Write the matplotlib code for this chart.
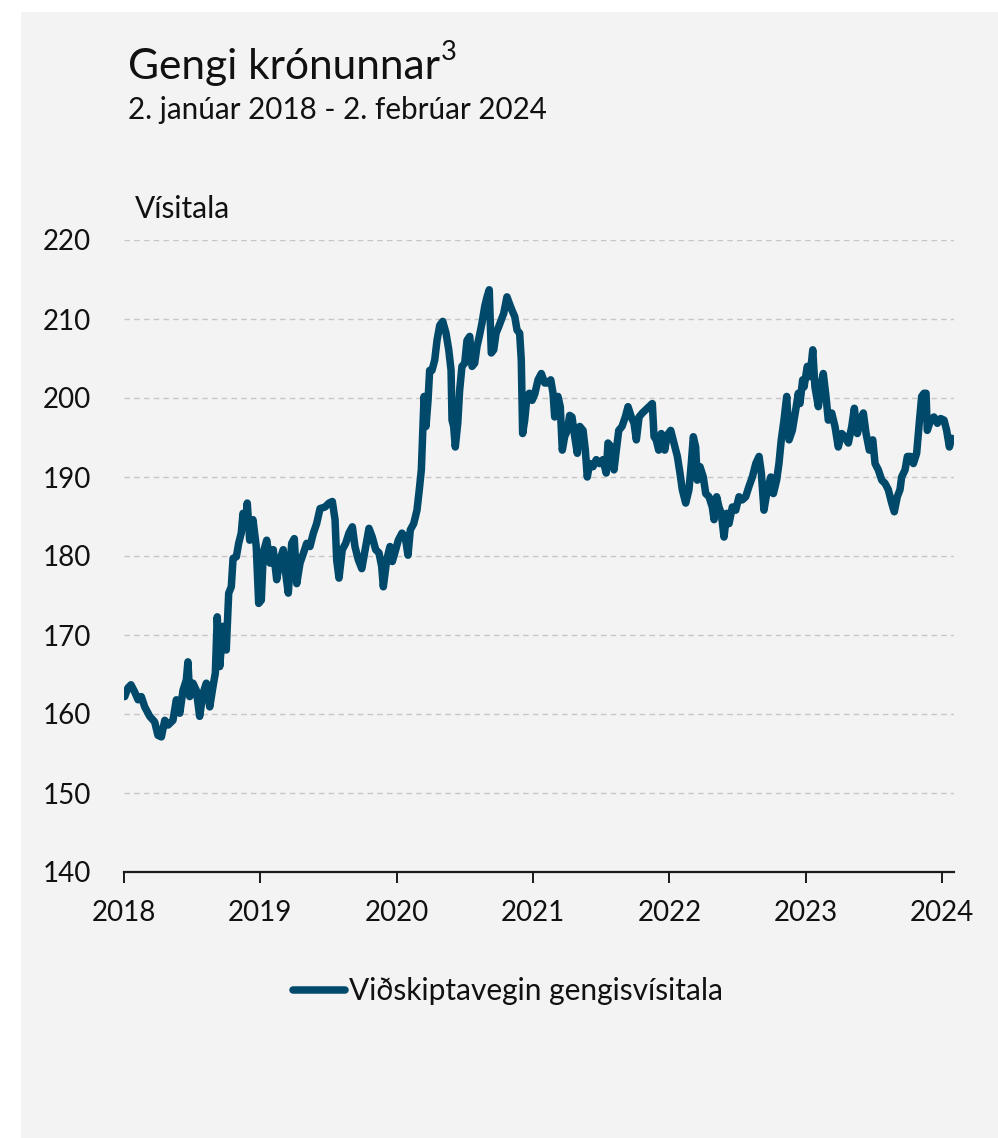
import matplotlib
matplotlib.use("Agg")
import matplotlib.pyplot as plt
from matplotlib.patches import Rectangle
import numpy as np

plt.rcParams['font.family'] = ['Lato', 'DejaVu Sans']

# Viðskiptavegin gengisvísitala (fractional year, index)
years = [
    2018.005, 2018.029, 2018.051, 2018.078, 2018.103, 2018.127, 2018.152, 2018.189, 2018.225, 2018.249,
    2018.274, 2018.299, 2018.323, 2018.359, 2018.384, 2018.409, 2018.433, 2018.457, 2018.469, 2018.482,
    2018.506, 2018.530, 2018.555, 2018.579, 2018.604, 2018.629, 2018.653, 2018.670, 2018.684, 2018.702,
    2018.726, 2018.750, 2018.768, 2018.787, 2018.800, 2018.824, 2018.841, 2018.860, 2018.873, 2018.890,
    2018.904, 2018.922, 2018.946, 2018.970, 2018.988,
    2019.007, 2019.022, 2019.047, 2019.071, 2019.095, 2019.120, 2019.144, 2019.168, 2019.186, 2019.205,
    2019.230, 2019.249, 2019.267, 2019.291, 2019.315, 2019.340, 2019.364, 2019.389, 2019.413, 2019.438,
    2019.474, 2019.504, 2019.528, 2019.548, 2019.560, 2019.577, 2019.601, 2019.626, 2019.650, 2019.675,
    2019.694, 2019.719, 2019.744, 2019.773, 2019.797, 2019.821, 2019.846, 2019.870, 2019.890, 2019.902,
    2019.927, 2019.951, 2019.968, 2019.988,
    2020.012, 2020.039, 2020.063, 2020.083, 2020.100, 2020.125, 2020.149, 2020.166, 2020.181, 2020.191,
    2020.201, 2020.215, 2020.230, 2020.242, 2020.259, 2020.279, 2020.296, 2020.316, 2020.338, 2020.362,
    2020.382, 2020.399, 2020.406, 2020.418, 2020.430, 2020.448, 2020.462, 2020.479, 2020.499, 2020.516,
    2020.536, 2020.553, 2020.572, 2020.589, 2020.606, 2020.626, 2020.646, 2020.663, 2020.679, 2020.694,
    2020.712, 2020.729, 2020.748, 2020.768, 2020.785, 2020.809, 2020.826, 2020.846, 2020.866, 2020.883,
    2020.902, 2020.914, 2020.924, 2020.939, 2020.956, 2020.973, 2020.993,
    2021.013, 2021.037, 2021.061, 2021.086, 2021.110, 2021.130, 2021.147, 2021.159, 2021.183, 2021.200,
    2021.215, 2021.232, 2021.252, 2021.269, 2021.286, 2021.306, 2021.325, 2021.343, 2021.367, 2021.384,
    2021.398, 2021.416, 2021.440, 2021.464, 2021.489, 2021.513, 2021.537, 2021.550, 2021.574, 2021.594,
    2021.611, 2021.629, 2021.653, 2021.677, 2021.697, 2021.721, 2021.741, 2021.758, 2021.778, 2021.802,
    2021.827, 2021.851, 2021.875, 2021.888, 2021.904, 2021.922, 2021.941, 2021.966, 2021.985,
    2022.010, 2022.034, 2022.059, 2022.078, 2022.095, 2022.120, 2022.144, 2022.161, 2022.176, 2022.193,
    2022.205, 2022.225, 2022.249, 2022.267, 2022.291, 2022.315, 2022.328, 2022.347, 2022.364, 2022.381,
    2022.401, 2022.421, 2022.438, 2022.462, 2022.487, 2022.511, 2022.535, 2022.560, 2022.584, 2022.609,
    2022.634, 2022.658, 2022.675, 2022.694, 2022.719, 2022.744, 2022.763, 2022.787, 2022.804, 2022.821,
    2022.841, 2022.861, 2022.878, 2022.902, 2022.927, 2022.946, 2022.958, 2022.978, 2022.988,
    2023.012, 2023.032, 2023.052, 2023.068, 2023.093, 2023.110, 2023.129, 2023.149, 2023.166, 2023.191,
    2023.215, 2023.239, 2023.264, 2023.288, 2023.313, 2023.338, 2023.357, 2023.379, 2023.404, 2023.423,
    2023.443, 2023.467, 2023.492, 2023.509, 2023.533, 2023.558, 2023.582, 2023.606, 2023.631, 2023.650,
    2023.672, 2023.692, 2023.704, 2023.729, 2023.746, 2023.770, 2023.790, 2023.814, 2023.833, 2023.851,
    2023.868, 2023.883, 2023.892, 2023.917, 2023.941, 2023.966, 2023.990,
    2024.015, 2024.034, 2024.054, 2024.071,
]
index_values = [
    162.2, 163.3, 163.7, 162.8, 161.8, 162.2, 160.9, 159.7, 159.0, 157.3,
    157.1, 159.2, 158.6, 159.2, 161.8, 160.1, 163.0, 164.3, 166.6, 162.2,
    163.9, 163.0, 159.7, 162.6, 163.9, 160.9, 163.5, 165.2, 172.3, 166.0,
    171.1, 168.1, 175.3, 176.1, 179.7, 179.9, 181.6, 182.9, 185.4, 183.7,
    186.7, 182.0, 184.6, 181.2, 174.0,
    174.4, 180.5, 182.0, 179.1, 180.8, 177.0, 179.5, 180.8, 177.8, 175.3,
    181.6, 182.2, 176.5, 179.1, 180.3, 181.6, 181.2, 182.9, 184.1, 186.0,
    186.2, 186.7, 186.9, 184.6, 179.5, 177.2, 180.8, 181.6, 182.9, 183.7,
    181.2, 179.5, 178.4, 181.2, 183.5, 182.4, 180.8, 180.4, 178.7, 176.1,
    179.5, 181.2, 179.3, 180.5,
    182.0, 182.9, 182.4, 180.1, 183.3, 184.1, 185.8, 188.4, 190.9, 195.5,
    200.2, 196.4, 199.7, 203.5, 203.5, 204.8, 207.3, 209.2, 209.7, 208.2,
    206.1, 203.5, 197.2, 196.4, 193.8, 196.8, 201.0, 204.0, 204.4, 207.3,
    207.8, 204.0, 204.4, 206.5, 207.8, 209.5, 211.6, 212.8, 213.7, 205.7,
    206.1, 208.2, 209.0, 209.9, 210.7, 212.8, 212.0, 211.1, 210.3, 208.6,
    208.2, 204.8, 195.5, 197.2, 200.2, 200.6, 199.7,
    200.5, 202.3, 203.1, 201.9, 201.9, 202.3, 200.6, 197.6, 200.2, 198.9,
    193.4, 195.1, 195.9, 197.8, 197.6, 195.1, 193.0, 196.4, 195.9, 193.4,
    190.0, 191.7, 191.3, 192.2, 191.7, 192.2, 190.5, 194.3, 193.8, 190.9,
    193.4, 195.9, 196.4, 197.6, 198.9, 197.6, 196.8, 194.7, 197.6, 198.1,
    198.5, 198.9, 199.3, 195.1, 194.7, 193.4, 195.5, 193.4, 195.3,
    195.9, 194.3, 192.6, 190.5, 188.4, 186.7, 188.4, 191.7, 195.1, 193.8,
    189.6, 191.3, 190.0, 187.9, 187.5, 186.2, 184.6, 187.5, 186.2, 185.4,
    182.4, 185.4, 184.1, 186.2, 185.8, 187.5, 187.1, 187.5, 188.8, 190.0,
    191.7, 192.6, 190.5, 185.8, 188.4, 190.0, 187.9, 189.6, 191.7, 194.7,
    197.2, 200.2, 194.7, 195.9, 198.5, 200.6, 199.3, 202.3, 201.4,
    204.0, 202.7, 206.1, 201.4, 198.9, 201.4, 203.1, 200.2, 197.2, 198.1,
    196.4, 193.8, 195.5, 195.1, 194.3, 196.4, 198.7, 195.5, 197.2, 198.1,
    195.5, 193.4, 194.7, 191.7, 190.9, 189.6, 189.2, 188.4, 186.7, 185.6,
    187.5, 188.4, 190.0, 190.9, 192.6, 192.6, 191.7, 193.0, 196.8, 200.2,
    200.6, 200.6, 195.9, 197.2, 197.6, 196.8, 197.4,
    197.2, 195.9, 193.8, 194.9,
]

year_ticks = [2018, 2019, 2020, 2021, 2022, 2023, 2024]
y_ticks = [140, 150, 160, 170, 180, 190, 200, 210, 220]

line_color = '#00496a'
bg_color = '#f3f3f3'
W, H = 998, 1138

fig = plt.figure(figsize=(W / 100, H / 100), dpi=100)
fig.patch.set_facecolor('white')
fig.add_artist(Rectangle((21 / W, 0), 1, 1 - 12 / H, transform=fig.transFigure,
                         facecolor=bg_color, edgecolor='none', zorder=0))

ax = fig.add_axes([124 / W, 266 / H, 830 / W, 632 / H])
ax.set_facecolor('none')
ax.plot(years, index_values, color=line_color, lw=5.4, solid_joinstyle='round',
        solid_capstyle='round', label='Viðskiptavegin gengisvísitala', zorder=3)

ax.set_xlim(2018, 2024.088)
ax.set_ylim(140, 220)
ax.set_xticks(year_ticks)
ax.set_xticklabels([str(y) for y in year_ticks])
ax.set_yticks(y_ticks)
for v in y_ticks[1:]:
    ax.axhline(v, color='#c6c6c6', lw=1.0, ls=(0, (4, 3)), zorder=1)

for s in ['top', 'right', 'left']:
    ax.spines[s].set_visible(False)
ax.spines['bottom'].set_linewidth(1.6)
ax.spines['bottom'].set_color('#1a1a1a')
ax.tick_params(axis='x', direction='out', length=8, width=1.4, color='#1a1a1a',
               labelsize=20, pad=12)
ax.tick_params(axis='y', length=0, labelsize=20, pad=24)
for lab in ax.get_xticklabels() + ax.get_yticklabels():
    lab.set_color('#111111')

title = fig.text(128 / W, 1 - 79 / H, 'Gengi krónunnar', fontsize=30.5, color='#111111', va='baseline')
fig.canvas.draw()
bb = title.get_window_extent()
fig.text(bb.x1 / W + 1 / W, 1 - 60 / H, '3', fontsize=19.5, color='#111111', va='baseline')
fig.text(128 / W, 1 - 119 / H, '2. janúar 2018 - 2. febrúar 2024', fontsize=21.3, color='#111111',
         va='baseline')
fig.text(135 / W, 1 - 218 / H, 'Vísitala', fontsize=21.5, color='#111111', va='baseline')

fig.legend(loc='center', bbox_to_anchor=(508 / W, 1 - 991 / H), frameon=False, fontsize=21.5,
           handlelength=1.75, handletextpad=0.12, labelcolor='#111111')

fig.savefig('out.png', dpi=100, facecolor=fig.get_facecolor())
